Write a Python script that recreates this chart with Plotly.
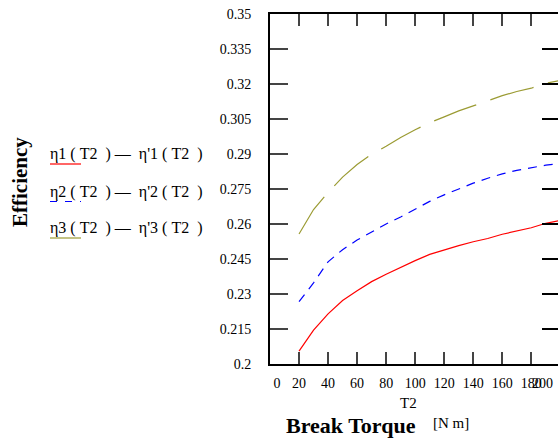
import plotly.graph_objects as go

T2 = [20, 30, 40, 50, 60, 70, 80, 90, 100, 110, 120, 130, 140, 150, 160, 170, 180, 190, 200]
eta1 = [0.2055, 0.2145, 0.2215, 0.2272, 0.2314, 0.2353, 0.2385, 0.2415, 0.2443, 0.2470,
        0.2490, 0.2507, 0.2524, 0.2538, 0.2556, 0.2570, 0.2584, 0.2603, 0.2615]
eta2 = [0.2267, 0.2348, 0.2438, 0.2490, 0.2531, 0.2567, 0.2600, 0.2630, 0.2665, 0.2697,
        0.2725, 0.2751, 0.2775, 0.2796, 0.2815, 0.2830, 0.2842, 0.2852, 0.2860]
eta3 = [0.2557, 0.2662, 0.2735, 0.2801, 0.2855, 0.2899, 0.2933, 0.2971, 0.3004, 0.3034,
        0.3059, 0.3085, 0.3106, 0.3128, 0.3150, 0.3168, 0.3182, 0.3203, 0.3215]

S = "\u00a0"
x_ticks = [0, 20, 40, 60, 80, 100, 120, 140, 160, 180]
x_labels = [S * 4 + "0", "20", "40", "60", "80", "100", "120", "140", "160", "180"]
y_ticks = [0.2, 0.215, 0.23, 0.245, 0.26, 0.275, 0.29, 0.305, 0.32, 0.335, 0.35]
y_labels = ["0.2", "0.215", "0.23", "0.245", "0.26", "0.275", "0.29", "0.305", "0.32", "0.335", "0.35"]
legend_labels = [
    f"η1{S}({S}T2{S}{S}){S}—{S}{S}η'1{S}({S}T2{S}{S})",
    f"η2{S}({S}T2{S}{S}){S}—{S}{S}η'2{S}({S}T2{S}{S})",
    f"η3{S}({S}T2{S}{S}){S}—{S}{S}η'3{S}({S}T2{S}{S})",
]
colors = ["#ff0000", "#0000ff", "#9b9b33"]
dashes = ["solid", "9px,7px", "45px,15px"]
sample_dashes = ["solid", "7px,8px", "solid"]

FONT = "Liberation Serif, Times New Roman, serif"
W, H = 558, 438
L, T, B = 270, 14, 74

fig = go.Figure()
for ys, c, d, name in zip([eta1, eta2, eta3], colors, dashes, legend_labels):
    fig.add_trace(go.Scatter(x=T2, y=ys, mode="lines", name=name,
                             line=dict(color=c, width=1.2, dash=d), showlegend=False))
# invisible trace bound to right-side mirror ticks
fig.add_trace(go.Scatter(x=T2, y=eta1, yaxis="y2", mode="lines", line=dict(width=0),
                         hoverinfo="skip", showlegend=False, opacity=0))

fig.update_layout(
    width=W, height=H,
    margin=dict(l=L, r=0, t=T, b=B),
    paper_bgcolor="white", plot_bgcolor="white",
    font=dict(family=FONT, size=14, color="black"),
    xaxis=dict(range=[0, 198.4], tickvals=x_ticks, ticktext=x_labels, ticks="inside",
               ticklen=12, tickwidth=2,
               showline=True, linewidth=2, linecolor="black", mirror="ticks",
               showgrid=False, zeroline=False, ticklabelstandoff=5,
               tickfont=dict(family=FONT, size=14)),
    yaxis=dict(range=[0.2, 0.35], tickvals=y_ticks, ticktext=y_labels, ticks="inside",
               ticklen=18, tickwidth=2, showline=True, linewidth=2, linecolor="black",
               showgrid=False, zeroline=False, ticklabelstandoff=14,
               tickfont=dict(family=FONT, size=14)),
    yaxis2=dict(range=[0.2, 0.35], tickvals=y_ticks, overlaying="y", side="right",
                ticks="inside", ticklen=16, tickwidth=2, tickcolor="black",
                showline=False, showgrid=False, zeroline=False, showticklabels=False),
)

plot_w = W - L
plot_h = H - T - B
def px(xp, yp):
    """page pixel (from top-left) -> paper coords"""
    return (xp - L) / plot_w, (H - B - yp) / plot_h

def text_at(txt, xp, yp, size, xanchor="center", angle=0):
    x, y = px(xp, yp)
    return dict(text=txt, x=x, y=y, xref="paper", yref="paper", xanchor=xanchor,
                yanchor="middle", showarrow=False, textangle=angle,
                font=dict(family=FONT, size=size, color="black"))

ann = [
    text_at("200", 555, 383, 14, xanchor="right"),
    text_at("T2", 408, 403, 15),
    text_at("<b>Break Torque</b>", 351, 426, 22),
    text_at("[N m]", 451, 423, 15),
    text_at("<b>Efficiency</b>", 20, 182, 21, angle=-90),
]

legend_y = [154, 191.5, 228]
shapes = []
for lbl, c, sd, yy in zip(legend_labels, colors, sample_dashes, legend_y):
    ann.append(text_at(lbl, 48, yy, 16, xanchor="left"))
    x0, yl = px(50, yy + 10)
    x1, _ = px(81, yy + 10)
    shapes.append(dict(type="line", xref="paper", yref="paper", x0=x0, x1=x1, y0=yl, y1=yl,
                       line=dict(color=c, width=1.2, dash=sd)))

fig.update_layout(annotations=ann, shapes=shapes)
fig.write_html("out.html", config={"displayModeBar": False},
               post_script="document.body.style.margin='0';document.body.style.overflow='hidden';")
